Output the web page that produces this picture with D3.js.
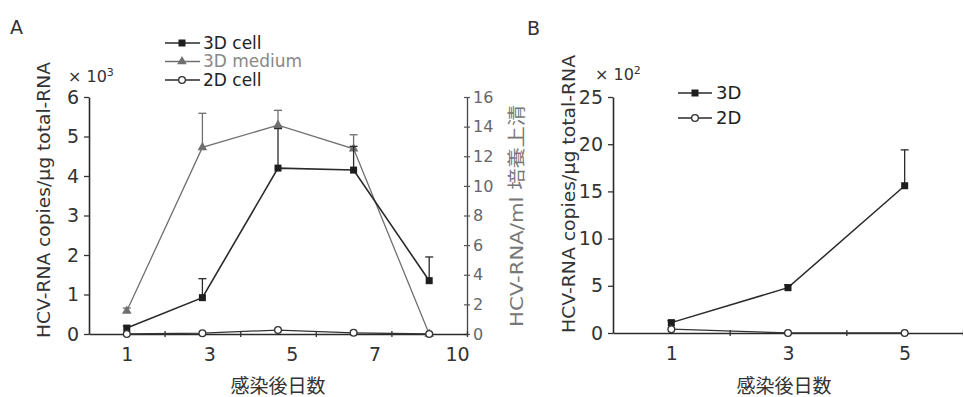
<!DOCTYPE html>
<html>
<head>
<meta charset="utf-8">
<script src="https://cdn.jsdelivr.net/npm/d3@7"></script>
<style>
  body { margin: 0; background: #fff; }
  svg { display: block; }
  text { font-family: "DejaVu Sans", "Noto Sans CJK JP", sans-serif; }
</style>
</head>
<body>
<div id="chart"></div>
<script>
// Panel A: days after infection
const daysA = ['1', '3', '5', '7', '10'];
const cell3D = [0.15, 0.92, 4.2, 4.15, 1.35];        // x10^3 copies/ug
const cell3DErr = [0.05, 0.48, 1.0, 0.6, 0.6];
const medium3D = [1.55, 12.6, 14.1, 12.5, 0];        // right axis
const medium3DErr = [0.2, 2.3, 1.0, 0.95, 0];
const cell2D = [0, 0.02, 0.1, 0.03, 0];
const leftTicksA = [0, 1, 2, 3, 4, 5, 6];
const rightTicksA = [0, 2, 4, 6, 8, 10, 12, 14, 16];
const legendA = ['3D cell', '3D medium', '2D cell'];

// Panel B
const daysB = ['1', '3', '5'];
const b3D = [1.1, 4.8, 15.6];                        // x10^2 copies/ug
const b3DErr = [0.2, 0.3, 3.8];
const b2D = [0.4, 0, 0];
const ticksB = [0, 5, 10, 15, 20, 25];
const legendB = ['3D', '2D'];

const W = 963, H = 397;
const svg = d3.select('#chart').append('svg')
  .attr('width', W).attr('height', H)
  .style('background', '#fff');

// marker helpers
function marker(sel, type) {
  if (type === 'square') {
    sel.append('rect').attr('x', -3.5).attr('y', -3.5).attr('width', 7).attr('height', 7)
      .attr('fill', '#1e1e1e');
  } else if (type === 'triangle') {
    sel.append('path').attr('d', d3.symbol(d3.symbolTriangle, 40)())
      .attr('fill', '#6f6f6f');
  } else {
    sel.append('circle').attr('r', 3.4).attr('fill', '#fff')
      .attr('stroke', '#333').attr('stroke-width', 1.3);
  }
}

function drawSeries(g, x, y, vals, errs, type, color, width) {
  const cx = d => x(d.k) + x.bandwidth() / 2;
  const data = vals.map((v, i) => ({ k: x.domain()[i], v: v, e: errs ? errs[i] : 0 }));
  g.append('path').datum(data)
    .attr('fill', 'none').attr('stroke', color).attr('stroke-width', width)
    .attr('d', d3.line().x(cx).y(d => y(d.v)));
  const eb = g.append('g').attr('stroke', color).attr('stroke-width', 1.3);
  data.filter(d => d.e > 0).forEach(d => {
    eb.append('line').attr('x1', cx(d)).attr('x2', cx(d)).attr('y1', y(d.v)).attr('y2', y(d.v + d.e));
    eb.append('line').attr('x1', cx(d) - 4).attr('x2', cx(d) + 4).attr('y1', y(d.v + d.e)).attr('y2', y(d.v + d.e));
  });
  g.append('g').selectAll('g').data(data).join('g')
    .attr('transform', d => `translate(${cx(d)},${y(d.v)})`)
    .each(function() { marker(d3.select(this), type); });
}

function bandAxis(g, x, yPos, labelScale, labelY) {
  const n = x.domain().length;
  const edge = d3.scaleLinear().domain([0, n]).range(x.range());
  const ax = g.append('g').attr('transform', `translate(0,${yPos})`)
    .call(d3.axisBottom(edge).tickValues(d3.range(1, n + 1)).tickFormat('').tickSizeOuter(0));
  ax.select('.domain').attr('stroke', '#2a2a2a').attr('stroke-width', 1.6);
  ax.selectAll('.tick line').attr('y1', -3).attr('y2', 3).attr('stroke', '#333').attr('stroke-width', 1.3);
  const lab = g.append('g').attr('transform', `translate(0,${yPos})`)
    .call(d3.axisBottom(labelScale).tickSize(0).tickPadding(labelY));
  lab.select('.domain').remove();
  lab.selectAll('text').attr('font-size', 19).attr('fill', '#333');
}

// ---------- Panel A ----------
const gA = svg.append('g');
const xA = d3.scaleBand().domain(daysA).range([89, 467]);
const yA = d3.scaleLinear().domain([0, 6]).range([334, 97]);
const yR = d3.scaleLinear().domain([0, 16]).range([334, 97]);
const xLabA = d3.scalePoint().domain(daysA)
  .range([xA(daysA[0]) + xA.bandwidth() / 2, xA.range()[1] - 10]);

const axL = gA.append('g').attr('transform', 'translate(89,0)')
  .call(d3.axisLeft(yA).tickValues(leftTicksA).tickFormat(d3.format('d'))
    .tickSize(5).tickPadding(5).tickSizeOuter(0));
axL.select('.domain').attr('stroke', '#2a2a2a').attr('stroke-width', 1.6);
axL.selectAll('.tick line').attr('stroke', '#333').attr('stroke-width', 1.3);
axL.selectAll('text').attr('font-size', 19).attr('fill', '#333');

const axR = gA.append('g').attr('transform', 'translate(467,0)')
  .call(d3.axisRight(yR).tickValues(rightTicksA).tickFormat(d3.format('d'))
    .tickSize(3).tickPadding(3).tickSizeOuter(0));
axR.select('.domain').attr('stroke', '#444').attr('stroke-width', 1.3);
axR.selectAll('.tick line').attr('x1', -3).attr('stroke', '#555').attr('stroke-width', 1.2);
axR.selectAll('text').attr('font-size', 16).attr('fill', '#666');

drawSeries(gA, xA, yR, medium3D, medium3DErr, 'triangle', '#707070', 1.3);
drawSeries(gA, xA, yA, cell3D, cell3DErr, 'square', '#2a2a2a', 1.6);
bandAxis(gA, xA, 334, xLabA, 14);
drawSeries(gA, xA, yA, cell2D, null, 'circle', '#333', 1.3);

gA.append('text').attr('x', 10).attr('y', 34).attr('font-size', 19).attr('fill', '#333').text('A');
gA.append('text').attr('x', 68).attr('y', 82).attr('font-size', 16).attr('fill', '#333')
  .text('× 10').append('tspan').attr('dy', -6).attr('font-size', 11).text('3');
gA.append('text').attr('transform', 'translate(45,200) rotate(-90)')
  .attr('text-anchor', 'middle').attr('dominant-baseline', 'middle')
  .attr('font-size', 18).attr('fill', '#333')
  .attr('textLength', 276).attr('lengthAdjust', 'spacingAndGlyphs')
  .text('HCV-RNA copies/μg total-RNA');
gA.append('text').attr('transform', 'translate(518,216) rotate(-90)')
  .attr('text-anchor', 'middle').attr('dominant-baseline', 'middle')
  .attr('font-size', 18).attr('fill', '#777')
  .attr('textLength', 222).attr('lengthAdjust', 'spacingAndGlyphs')
  .text('HCV-RNA/ml 培養上清');
gA.append('text').attr('x', (xA.range()[0] + xA.range()[1]) / 2).attr('y', 393)
  .attr('text-anchor', 'middle').attr('font-size', 19).attr('fill', '#333').text('感染後日数');

const legA = gA.append('g').selectAll('g').data(legendA).join('g')
  .attr('transform', (d, i) => `translate(165,${43 + i * 18.5})`);
legA.append('line').attr('x1', 0).attr('x2', 35)
  .attr('stroke', (d, i) => i === 1 ? '#707070' : '#2a2a2a').attr('stroke-width', 1.5);
legA.append('g').attr('transform', 'translate(17,0)')
  .each(function(d, i) { marker(d3.select(this), ['square', 'triangle', 'circle'][i]); });
legA.append('text').attr('x', 38).attr('dy', '0.35em').attr('font-size', 17)
  .attr('fill', (d, i) => i === 1 ? '#888' : '#222').text(d => d);

// ---------- Panel B ----------
const gB = svg.append('g');
const xB = d3.scaleBand().domain(daysB).range([613, 963]);
const yB = d3.scaleLinear().domain([0, 25]).range([333, 97]);
const xLabB = d3.scalePoint().domain(daysB)
  .range([xB(daysB[0]) + xB.bandwidth() / 2, xB(daysB[2]) + xB.bandwidth() / 2]);

const axB = gB.append('g').attr('transform', 'translate(613,0)')
  .call(d3.axisLeft(yB).tickValues(ticksB).tickFormat(d3.format('d'))
    .tickSize(5).tickPadding(5).tickSizeOuter(0));
axB.select('.domain').attr('stroke', '#2a2a2a').attr('stroke-width', 1.6);
axB.selectAll('.tick line').attr('stroke', '#333').attr('stroke-width', 1.3);
axB.selectAll('text').attr('font-size', 19).attr('fill', '#333');

drawSeries(gB, xB, yB, b3D, b3DErr, 'square', '#2a2a2a', 1.5);
bandAxis(gB, xB, 333, xLabB, 14);
drawSeries(gB, xB, yB, b2D, null, 'circle', '#333', 1.3);

gB.append('text').attr('x', 527).attr('y', 35).attr('font-size', 19).attr('fill', '#333').text('B');
gB.append('text').attr('x', 595).attr('y', 80).attr('font-size', 16).attr('fill', '#333')
  .text('× 10').append('tspan').attr('dy', -6).attr('font-size', 11).text('2');
gB.append('text').attr('transform', 'translate(570,194) rotate(-90)')
  .attr('text-anchor', 'middle').attr('dominant-baseline', 'middle')
  .attr('font-size', 18).attr('fill', '#333')
  .attr('textLength', 278).attr('lengthAdjust', 'spacingAndGlyphs')
  .text('HCV-RNA copies/μg total-RNA');
gB.append('text').attr('x', 784).attr('y', 393)
  .attr('text-anchor', 'middle').attr('font-size', 19).attr('fill', '#333').text('感染後日数');

const legB = gB.append('g').selectAll('g').data(legendB).join('g')
  .attr('transform', (d, i) => `translate(678,${93 + i * 25})`);
legB.append('line').attr('x1', 0).attr('x2', 34).attr('stroke', '#2a2a2a').attr('stroke-width', 1.5);
legB.append('g').attr('transform', 'translate(17,0)')
  .each(function(d, i) { marker(d3.select(this), ['square', 'circle'][i]); });
legB.append('text').attr('x', 38).attr('dy', '0.35em').attr('font-size', 18)
  .attr('fill', '#222').text(d => d);
</script>
</body>
</html>
